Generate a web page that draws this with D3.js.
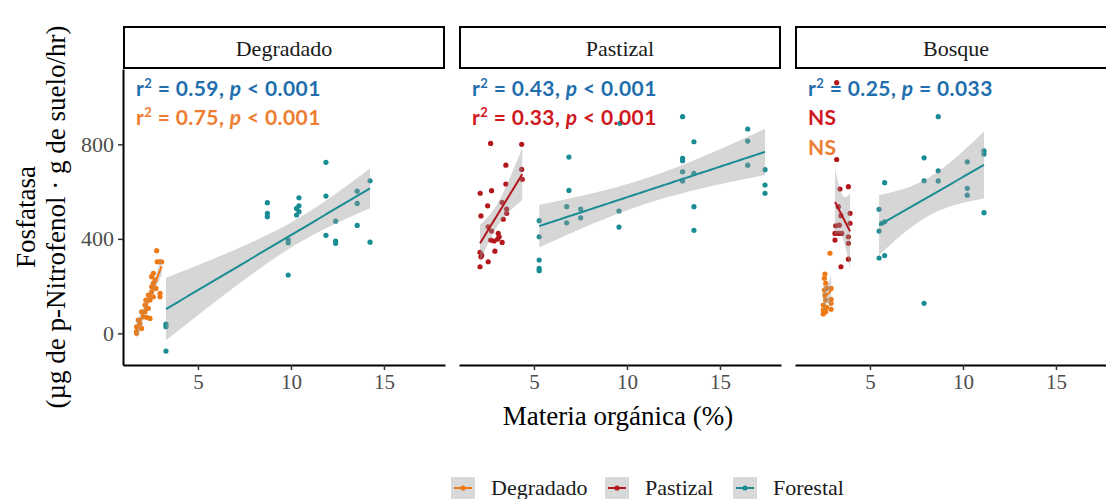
<!DOCTYPE html>
<html>
<head>
<meta charset="utf-8">
<script src="https://cdn.jsdelivr.net/npm/d3@7"></script>
<style>
  body { margin: 0; background: #fff; }
  svg { display: block; }
</style>
</head>
<body>
<svg id="chart" width="1106" height="499"></svg>
<script>
// Facets and series
const panelNames = ["Degradado", "Pastizal", "Bosque"];
const seriesNames = ["Degradado", "Pastizal", "Forestal"];
const seriesColors = ["#ee7a16", "#b3171c", "#1a8c94"];
const statColors = ["#ed7d31", "#d0181e", "#1f6fae"];
const xTicks = [5, 10, 15];
const yTicks = [0, 400, 800];

// Points as [materia orgánica (%), fosfatasa]
const degradadoDeg = [[2.78,350],[2.92,303],[3.05,303],[2.81,303],[2.60,254],[2.51,240],[2.69,226],[2.60,212],[2.51,197],[2.74,190],[2.96,169],[2.51,176],[2.33,162],[2.20,141],[2.42,141],[2.15,120],[2.33,106],[1.97,91],[2.06,70],[2.24,68],[2.42,63],[1.79,56],[1.88,42],[1.70,28],[1.97,21],[1.70,7],[2.15,91],[2.96,155],[2.60,155],[1.70,0]];
const degradadoFor = [[11.88,724],[8.73,553],[8.73,508],[8.73,494],[10.43,574],[10.43,540],[10.30,529],[10.43,515],[10.30,501],[11.88,581],[14.25,646],[13.56,602],[13.56,550],[12.40,475],[13.56,457],[11.88,415],[12.40,391],[12.40,381],[14.25,386],[9.85,383],[9.85,395],[9.85,247],[3.28,39],[3.28,28],[3.28,-75]];
const pastizalPas = [[2.67,804],[4.34,800],[3.49,712],[4.34,694],[4.37,652],[3.49,632],[2.11,593],[2.72,604],[2.51,540],[3.29,554],[3.53,526],[2.15,497],[3.35,483],[3.53,508],[2.54,451],[2.72,433],[3.08,423],[2.67,395],[2.86,391],[3.05,399],[3.13,409],[3.29,385],[2.10,343],[2.90,348],[2.15,324],[2.54,303],[2.10,282],[2.19,331]];
const pastizalFor = [[12.99,917],[9.62,889],[16.49,865],[16.49,814],[13.60,811],[6.88,746],[12.99,741],[12.99,731],[16.49,712],[17.42,693],[12.99,684],[13.60,677],[12.99,645],[17.42,628],[17.42,593],[6.88,605],[6.76,536],[7.51,526],[7.51,489],[6.76,468],[9.57,518],[9.57,450],[13.60,536],[13.60,436],[5.28,477],[5.28,409],[5.28,310],[5.28,275],[5.28,265]];
const bosqueFor = [[8.67,917],[7.91,743],[11.13,773],[11.13,759],[10.23,726],[8.67,688],[7.91,646],[8.67,645],[5.79,638],[10.23,614],[10.23,585],[5.49,525],[11.13,511],[5.79,472],[5.63,466],[5.49,433],[5.49,319],[5.79,329],[7.91,127]];
const bosquePas = [[3.21,1061],[3.21,736],[3.84,621],[3.39,611],[3.30,536],[3.93,508],[3.44,498],[3.93,466],[3.16,455],[3.35,458],[3.12,423],[3.30,423],[3.48,423],[3.12,395],[3.84,409],[3.84,381],[3.84,314],[3.44,282]];
const bosqueDeg = [[2.85,339],[2.58,251],[2.55,233],[2.62,212],[2.67,190],[2.91,190],[2.55,183],[2.58,162],[2.91,144],[2.62,141],[2.91,127],[2.49,120],[2.67,110],[2.91,102],[2.49,99],[2.62,91],[2.49,82]];

// Fit annotations per panel
const statPanel  = [0, 0, 1, 1, 2, 2, 2];
const statSeries = [2, 0, 2, 1, 2, 1, 0];
const statR2     = ["0.59", "0.75", "0.43", "0.33", "0.25", null, null];
const statOp     = ["<", "<", "<", "<", "=", null, null];
const statP      = ["0.001", "0.001", "0.001", "0.001", "0.033", null, null];

const groups = [
  { panel: 0, series: 0, pts: degradadoDeg },
  { panel: 0, series: 2, pts: degradadoFor },
  { panel: 1, series: 1, pts: pastizalPas },
  { panel: 1, series: 2, pts: pastizalFor },
  { panel: 2, series: 0, pts: bosqueDeg },
  { panel: 2, series: 1, pts: bosquePas },
  { panel: 2, series: 2, pts: bosqueFor }
];

// Layout
const panelLeft0 = 123, panelW = 322, panelGap = 14;
const plotTop = 69, plotBottom = 365, stripTop = 27;
const serif = "'Liberation Serif', 'Times New Roman', serif";
const sans = "Lato, 'Open Sans', sans-serif";

const svg = d3.select("#chart");

const x = d3.scaleLinear().domain([0.97, 18.28]).range([0, panelW]);
const y = d3.scaleLinear().domain([-134, 1119]).range([plotBottom, plotTop]);

// Ordinary least squares with a 95% confidence band
function tQuant975(v) {
  const z = 1.959964;
  const g1 = (Math.pow(z, 3) + z) / 4;
  const g2 = (5 * Math.pow(z, 5) + 16 * Math.pow(z, 3) + 3 * z) / 96;
  const g3 = (3 * Math.pow(z, 7) + 19 * Math.pow(z, 5) + 17 * Math.pow(z, 3) - 15 * z) / 384;
  return z + g1 / v + g2 / (v * v) + g3 / (v * v * v);
}
function lmFit(pts) {
  const n = pts.length;
  const mx = d3.mean(pts, d => d[0]), my = d3.mean(pts, d => d[1]);
  const sxx = d3.sum(pts, d => (d[0] - mx) ** 2);
  const sxy = d3.sum(pts, d => (d[0] - mx) * (d[1] - my));
  const b = sxy / sxx, a = my - b * mx;
  const sse = d3.sum(pts, d => (d[1] - a - b * d[0]) ** 2);
  const s = Math.sqrt(sse / (n - 2));
  const t = tQuant975(n - 2);
  const [x0, x1] = d3.extent(pts, d => d[0]);
  return d3.range(0, 81).map(i => {
    const xv = x0 + (x1 - x0) * i / 80;
    const fit = a + b * xv;
    const se = s * Math.sqrt(1 / n + (xv - mx) ** 2 / sxx);
    return { x: xv, fit, lo: fit - t * se, hi: fit + t * se };
  });
}

const panels = svg.selectAll("g.panel")
  .data(panelNames)
  .join("g")
  .attr("class", "panel")
  .attr("transform", (d, i) => `translate(${panelLeft0 + i * (panelW + panelGap)},0)`);

// Strips
panels.append("rect")
  .attr("x", 1).attr("y", stripTop)
  .attr("width", panelW - 2).attr("height", plotTop - stripTop - 1)
  .attr("fill", "#fff").attr("stroke", "#000").attr("stroke-width", 2);
panels.append("text")
  .attr("x", panelW / 2).attr("y", 56)
  .attr("text-anchor", "middle")
  .attr("font-family", serif).attr("font-size", 22).attr("fill", "#1a1a1a")
  .text(d => d);

// Bottom axes
panels.each(function () {
  const g = d3.select(this).append("g").attr("transform", `translate(0,${plotBottom})`);
  g.call(d3.axisBottom(x).tickValues(xTicks).tickSize(5).tickSizeOuter(0).tickPadding(4));
  g.select(".domain").attr("stroke", "#000").attr("stroke-width", 2);
  g.selectAll(".tick line").attr("stroke", "#333").attr("stroke-width", 1.5);
  g.selectAll(".tick text").attr("font-family", serif).attr("font-size", 21).attr("fill", "#4d4d4d");
});

// Left axis on the first panel only
{
  const g = svg.append("g").attr("transform", `translate(${panelLeft0},0)`);
  g.call(d3.axisLeft(y).tickValues(yTicks).tickSize(5).tickSizeOuter(0).tickPadding(4));
  g.select(".domain").attr("stroke", "#000").attr("stroke-width", 2);
  g.selectAll(".tick line").attr("stroke", "#333").attr("stroke-width", 1.5);
  g.selectAll(".tick text").attr("font-family", serif).attr("font-size", 22).attr("fill", "#4d4d4d");
}

// Points
groups.forEach(gr => {
  const g = svg.append("g")
    .attr("transform", `translate(${panelLeft0 + gr.panel * (panelW + panelGap)},0)`);
  g.selectAll("circle")
    .data(gr.pts)
    .join("circle")
    .attr("cx", d => x(d[0]))
    .attr("cy", d => y(d[1]))
    .attr("r", 2.6)
    .attr("fill", seriesColors[gr.series]);
});

// Smoothers: confidence band then fitted line
groups.forEach(gr => {
  const g = svg.append("g")
    .attr("transform", `translate(${panelLeft0 + gr.panel * (panelW + panelGap)},0)`);
  const curve = lmFit(gr.pts);
  g.append("path")
    .datum(curve)
    .attr("fill", "#999999").attr("fill-opacity", 0.4)
    .attr("d", d3.area().x(d => x(d.x)).y0(d => y(d.lo)).y1(d => y(d.hi)));
  g.append("path")
    .datum(curve)
    .attr("fill", "none")
    .attr("stroke", seriesColors[gr.series]).attr("stroke-width", 2)
    .attr("d", d3.line().x(d => x(d.x)).y(d => y(d.fit)));
});

// Fit annotations
const statRowY = [96, 125, 155];
const rowCount = [0, 0, 0];
statPanel.forEach((p, i) => {
  const row = rowCount[p]++;
  const t = svg.append("text")
    .attr("x", panelLeft0 + p * (panelW + panelGap) + 13)
    .attr("y", statRowY[row])
    .attr("font-family", sans).attr("font-weight", 700).attr("font-size", 21)
    .attr("letter-spacing", 0.4)
    .attr("fill", statColors[statSeries[i]]);
  if (statR2[i] === null) {
    t.text("NS");
  } else {
    t.append("tspan").text("r");
    t.append("tspan").attr("font-size", 13).attr("dy", -8).text("2");
    t.append("tspan").attr("dy", 8).text(` = ${statR2[i]}, `);
    t.append("tspan").attr("font-style", "italic").text("p");
    t.append("tspan").text(` ${statOp[i]} ${statP[i]}`);
  }
});

// Axis titles
svg.append("text")
  .attr("x", 618).attr("y", 425)
  .attr("text-anchor", "middle")
  .attr("font-family", serif).attr("font-size", 27).attr("fill", "#000")
  .text("Materia orgánica (%)");
const yTitle = svg.append("text")
  .attr("transform", "translate(35,217) rotate(-90)")
  .attr("text-anchor", "middle")
  .attr("font-family", serif).attr("font-size", 27).attr("fill", "#000");
yTitle.append("tspan").attr("x", 0).attr("y", 0).text("Fosfatasa");
yTitle.append("tspan").attr("x", 0).attr("y", 30).text("(µg de p-Nitrofenol · g de suelo/hr)");

// Legend
const legendX = [451, 605, 733];
const legend = svg.selectAll("g.legend")
  .data(seriesNames)
  .join("g")
  .attr("class", "legend")
  .attr("transform", (d, i) => `translate(${legendX[i]},477)`);
legend.append("rect")
  .attr("width", 24).attr("height", 22)
  .attr("fill", "#d9d9d9");
legend.append("line")
  .attr("x1", 3).attr("x2", 21).attr("y1", 11).attr("y2", 11)
  .attr("stroke", (d, i) => seriesColors[i]).attr("stroke-width", 2);
legend.append("circle")
  .attr("cx", 12).attr("cy", 11).attr("r", 2.6)
  .attr("fill", (d, i) => seriesColors[i]);
legend.append("text")
  .attr("x", 40).attr("y", 18)
  .attr("font-family", serif).attr("font-size", 22).attr("fill", "#1a1a1a")
  .text(d => d);
</script>
</body>
</html>
